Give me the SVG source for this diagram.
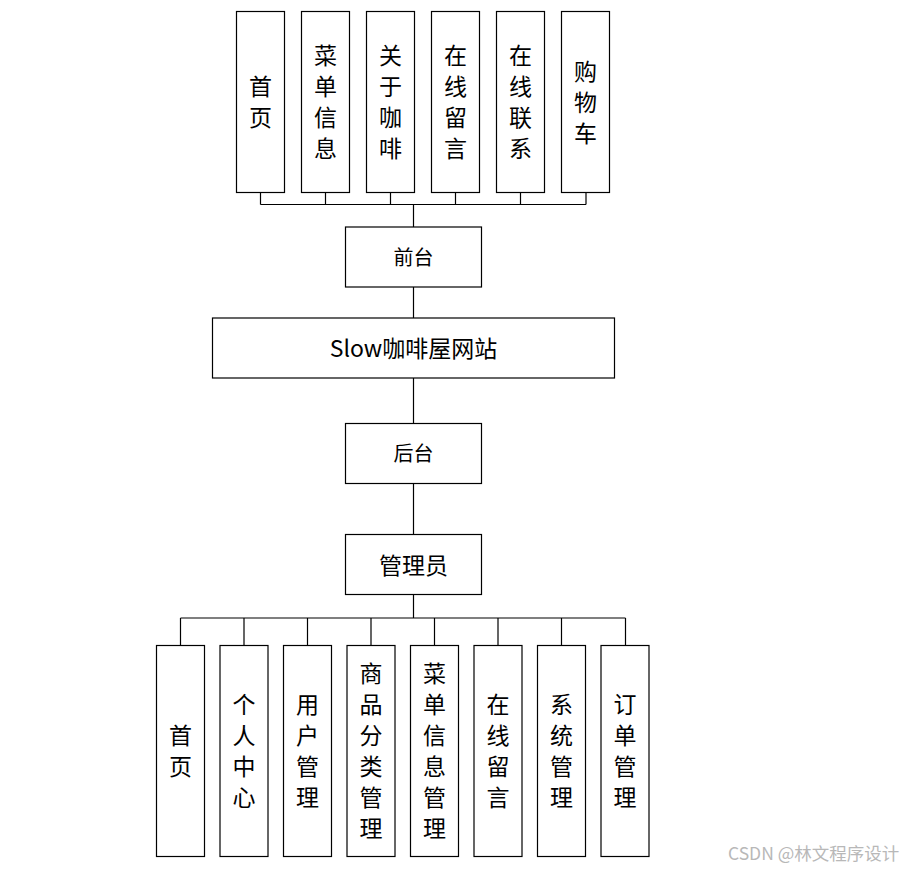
<svg xmlns="http://www.w3.org/2000/svg" width="903" height="869" viewBox="0 0 903 869">
<style>
.box{fill:#fff;stroke:#000;stroke-width:1.2}
.t{font-family:"Noto Sans CJK SC","Liberation Serif",sans-serif;font-size:23px;fill:#000;text-anchor:middle;dominant-baseline:central}
.v{font-family:"Noto Sans CJK SC",sans-serif;font-size:23px;fill:#000;text-anchor:middle;writing-mode:vertical-rl;letter-spacing:8px}
.s{font-size:20px}
.c{fill:none;stroke:#000;stroke-width:1.2}
.wm{font-family:"Noto Sans CJK SC","Liberation Sans",sans-serif;font-size:17.5px;fill:#b8b8b8}
</style>
<rect width="903" height="869" fill="#fff"/>
<g id="connectors">
<path class="c" d="M260.5 192V204.5M325.5 192V204.5M390.5 192V204.5M455.5 192V204.5M520.5 192V204.5M586 192V204.5M260.5 204.5H586M413.5 204.5V227"/>
<path class="c" d="M413.5 287V318M413.5 378V423.5M413.5 483.5V534.5M413.5 595V618"/>
<path class="c" d="M180.5 618H625.5M180.5 618V645.5M244 618V645.5M307.5 618V645.5M371 618V645.5M434.5 618V645.5M498 618V645.5M561.5 618V645.5M625.5 618V645.5"/>
</g>
<g id="top1"><rect class="box" x="236.5" y="11.5" width="48" height="181"/><text class="v" x="260.5" y="106">首页</text></g>
<g id="top2"><rect class="box" x="301.5" y="11.5" width="48" height="181"/><text class="v" x="325.5" y="106">菜单信息</text></g>
<g id="top3"><rect class="box" x="366.5" y="11.5" width="48" height="181"/><text class="v" x="390.5" y="106">关于咖啡</text></g>
<g id="top4"><rect class="box" x="431.5" y="11.5" width="48" height="181"/><text class="v" x="455.5" y="106">在线留言</text></g>
<g id="top5"><rect class="box" x="496.5" y="11.5" width="48" height="181"/><text class="v" x="520.5" y="106">在线联系</text></g>
<g id="top6"><rect class="box" x="561.5" y="11.5" width="48" height="181"/><text class="v" x="585.5" y="106">购物车</text></g>
<g id="qiantai"><rect class="box" x="345.5" y="227" width="136" height="60"/><text class="t s" x="413.5" y="256">前台</text></g>
<g id="main"><rect class="box" x="212.5" y="318" width="402" height="60"/><text class="t" x="413.5" y="347" font-size="25">Slow咖啡屋网站</text></g>
<g id="houtai"><rect class="box" x="345.5" y="423.5" width="136" height="60"/><text class="t s" x="413.5" y="452.5">后台</text></g>
<g id="admin"><rect class="box" x="345.5" y="534.5" width="136" height="60"/><text class="t" x="413.5" y="563.5" font-size="24">管理员</text></g>
<g id="b1"><rect class="box" x="156.5" y="645.5" width="48" height="211"/><text class="v" x="180.5" y="755">首页</text></g>
<g id="b2"><rect class="box" x="220" y="645.5" width="48" height="211"/><text class="v" x="244" y="755">个人中心</text></g>
<g id="b3"><rect class="box" x="283.5" y="645.5" width="48" height="211"/><text class="v" x="307.5" y="755">用户管理</text></g>
<g id="b4"><rect class="box" x="347" y="645.5" width="48" height="211"/><text class="v" x="371" y="755">商品分类管理</text></g>
<g id="b5"><rect class="box" x="410.5" y="645.5" width="48" height="211"/><text class="v" x="434.5" y="755">菜单信息管理</text></g>
<g id="b6"><rect class="box" x="474" y="645.5" width="48" height="211"/><text class="v" x="498" y="755">在线留言</text></g>
<g id="b7"><rect class="box" x="537.5" y="645.5" width="48" height="211"/><text class="v" x="561.5" y="755">系统管理</text></g>
<g id="b8"><rect class="box" x="601" y="645.5" width="48" height="211"/><text class="v" x="625" y="755">订单管理</text></g>
<text class="wm" x="728" y="860">CSDN @林文程序设计</text>
</svg>
